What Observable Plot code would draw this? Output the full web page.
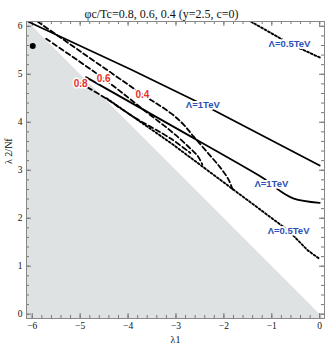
<!DOCTYPE html>
<html>
<head>
<meta charset="utf-8">
<script src="https://cdn.jsdelivr.net/npm/d3@7"></script>
<script src="https://cdn.jsdelivr.net/npm/@observablehq/plot@0.6"></script>
<style>
  html, body { margin: 0; padding: 0; background: #fff; }
  svg { display: block; }
</style>
</head>
<body>
<div id="chart"></div>
<script>
// ---- data ----
const titleText = "\u03c6c/Tc=0.8, 0.6, 0.4 (y=2.5, c=0)";
const xLabel = "\u03bb1";
const yLabel = "\u03bb 2/Nf";
const xMajor = [-6, -5, -4, -3, -2, -1, 0];
const yMajor = [0, 1, 2, 3, 4, 5, 6];
const xMinor = d3.range(-6, 0.001, 0.2);
const yMinor = d3.range(0, 6.001, 0.2);

// stability boundary lambda2/Nf = -lambda1 (gray region below)
const boundary = [[-6.3, 6.3], [0.2, -0.2]];

// Lambda = 1 TeV (solid)
const solid1 = [[-6.07, 6.09], [-3.94, 5.10], [-2.44, 4.37], [0, 3.10]];
const solid2 = [[-4.88, 4.94], [-3.11, 3.94], [-1.2, 2.85], [-1.01, 2.72], [-0.83, 2.57], [-0.54, 2.41], [0, 2.32]];
// Lambda = 0.5 TeV (dotted)
const dotted1 = [[-1.44, 6.1], [-0.63, 5.64], [0, 5.35]];
const dotted2 = [[-4.45, 4.5], [-3.11, 3.57], [-1.51, 2.38], [-0.65, 1.74], [-0.25, 1.33], [0, 1.15]];
// phi_c/Tc contours (dashed)
const dash04 = [[-5.89, 6.1], [-5.0, 5.48], [-3.70, 4.58], [-3.11, 4.19], [-2.84, 3.95], [-2.63, 3.70], [-2.3, 3.32], [-2.07, 3.05], [-1.9, 2.8], [-1.82, 2.6]];
const dash06 = [[-5.71, 5.74], [-4.51, 4.91], [-3.6, 4.2], [-3.11, 3.82], [-2.75, 3.5], [-2.55, 3.3], [-2.45, 3.12]];
const dash08 = [[-4.99, 4.81], [-4.5, 4.52], [-3.9, 4.12], [-3.11, 3.66], [-2.7, 3.36]];

const point = [[-5.99, 5.59]];

const redLabels = ["0.8", "0.6", "0.4"];
const redX = [-4.99, -4.51, -3.70];
const redY = [4.81, 4.91, 4.58];
const blueLabels = ["\u039b=1TeV", "\u039b=1TeV", "\u039b=0.5TeV", "\u039b=0.5TeV"];
const blueX = [-2.44, -1.01, -0.63, -0.65];
const blueY = [4.37, 2.71, 5.64, 1.74];

const redData = redLabels.map((t, i) => ({t, x: redX[i], y: redY[i]}));
const blueData = blueLabels.map((t, i) => ({t, x: blueX[i], y: blueY[i]}));

const fmt = d => (d < 0 ? "\u2212" + (-d) : String(d));
const serif = "Liberation Serif, Times New Roman, serif";
const sans = "Liberation Sans, Arial, sans-serif";
const tickColor = "#777";
const frameH = 297, frameW = 298;

const chart = Plot.plot({
  width: 327,
  height: 349,
  marginLeft: 26,
  marginRight: 3,
  marginTop: 21,
  marginBottom: 31,
  x: {domain: [-6.12, 0.1], axis: null},
  y: {domain: [-0.09, 6.1], axis: null},
  marks: [
    Plot.areaY(boundary, {x: d => d[0], y1: -0.2, y2: d => d[1], fill: "#dee2e2", clip: true}),
    // ticks (inward, all four sides)
    Plot.tickX(xMajor, {x: d => d, insetTop: frameH - 5, stroke: tickColor}),
    Plot.tickX(xMinor, {x: d => d, insetTop: frameH - 3, stroke: tickColor}),
    Plot.tickX(xMajor, {x: d => d, insetBottom: frameH - 5, stroke: tickColor}),
    Plot.tickX(xMinor, {x: d => d, insetBottom: frameH - 3, stroke: tickColor}),
    Plot.tickY(yMajor, {y: d => d, insetRight: frameW - 5, stroke: tickColor}),
    Plot.tickY(yMinor, {y: d => d, insetRight: frameW - 3, stroke: tickColor}),
    Plot.tickY(yMajor, {y: d => d, insetLeft: frameW - 5, stroke: tickColor}),
    Plot.tickY(yMinor, {y: d => d, insetLeft: frameW - 3, stroke: tickColor}),
    // contours
    Plot.line(solid1, {x: d => d[0], y: d => d[1], stroke: "black", strokeWidth: 1.8, clip: true}),
    Plot.line(solid2, {x: d => d[0], y: d => d[1], stroke: "black", strokeWidth: 1.8, curve: "catmull-rom", clip: true}),
    Plot.line(dotted1, {x: d => d[0], y: d => d[1], stroke: "black", strokeWidth: 1.9, strokeDasharray: "1.9,2.1", clip: true}),
    Plot.line(dotted2, {x: d => d[0], y: d => d[1], stroke: "black", strokeWidth: 1.9, strokeDasharray: "1.9,2.1", clip: true}),
    Plot.line(dash04, {x: d => d[0], y: d => d[1], stroke: "black", strokeWidth: 1.8, strokeDasharray: "5,3", curve: "catmull-rom", clip: true}),
    Plot.line(dash06, {x: d => d[0], y: d => d[1], stroke: "black", strokeWidth: 1.8, strokeDasharray: "5,3", curve: "catmull-rom", clip: true}),
    Plot.line(dash08, {x: d => d[0], y: d => d[1], stroke: "black", strokeWidth: 1.8, strokeDasharray: "5,3", curve: "catmull-rom", clip: true}),
    Plot.dot(point, {x: d => d[0], y: d => d[1], r: 3, fill: "black"}),
    Plot.frame({stroke: "#888"}),
    // labels
    Plot.text(redData, {x: "x", y: "y", text: "t", fill: "#e8302a", fontWeight: "bold", fontSize: 10, fontFamily: sans, stroke: "white", strokeWidth: 3}),
    Plot.text(blueData, {x: "x", y: "y", text: "t", fill: "#2b52b6", fontWeight: "bold", fontSize: 9.5, fontFamily: sans, stroke: "white", strokeWidth: 4}),
    // tick labels
    Plot.text(xMajor, {x: d => d, frameAnchor: "bottom", dy: 10, text: fmt, fontFamily: serif, fontSize: 9.5, fill: "#111"}),
    Plot.text(yMajor, {y: d => d, frameAnchor: "left", dx: -4, textAnchor: "end", text: fmt, fontFamily: serif, fontSize: 9.5, fill: "#111"}),
    // axis labels and title
    Plot.text([xLabel], {frameAnchor: "bottom", dy: 24, text: d => d, fontFamily: serif, fontSize: 10, fill: "#111"}),
    Plot.text([yLabel], {frameAnchor: "left", dx: -18, dy: -6, rotate: -90, text: d => d, fontFamily: serif, fontSize: 10, fill: "#111"}),
    Plot.text([titleText], {frameAnchor: "top", dy: -12, dx: -14, text: d => d, fontFamily: serif, fontSize: 12, fill: "#111"})
  ]
});
document.getElementById("chart").appendChild(chart);
</script>
</body>
</html>
